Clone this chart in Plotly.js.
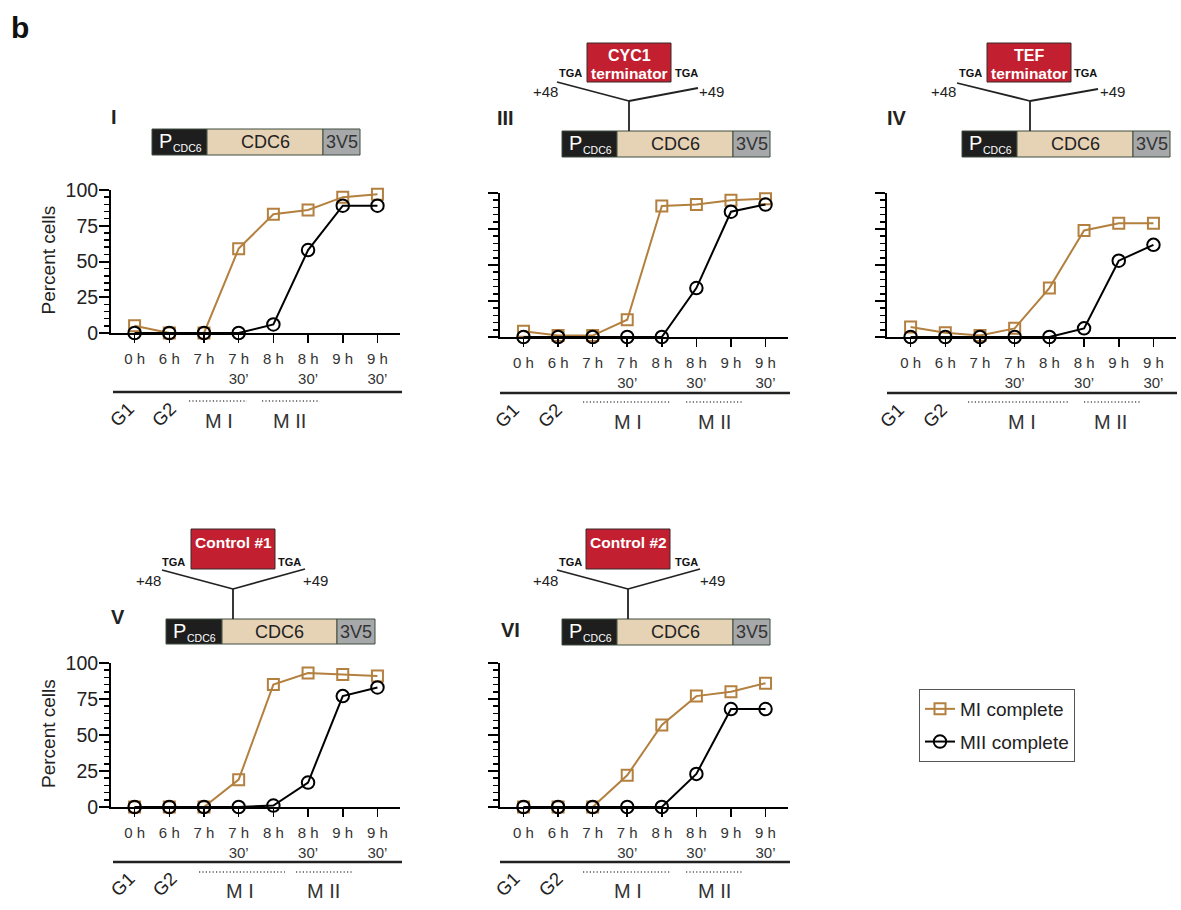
<!DOCTYPE html>
<html>
<head>
<meta charset="utf-8">
<script src="https://cdn.plot.ly/plotly-3.0.1.min.js"></script>
<style>html,body{margin:0;padding:0;background:#fff;}#chart{width:1181px;height:910px;}</style>
</head>
<body>
<div id="chart"></div>
<script>
// ---------- DATA ----------
const timePoints = ['0 h', '6 h', '7 h', '7 h<br>30’', '8 h', '8 h<br>30’', '9 h', '9 h<br>30’'];
const seriesNames = ['MI complete', 'MII complete'];
const panelLabels = ['I', 'III', 'IV', 'V', 'VI'];
const insertLabels = [null, 'CYC1<br>terminator', 'TEF<br>terminator', 'Control #1', 'Control #2'];

const miI   = [5, 0, 0, 59, 83, 86, 95, 97];
const miiI  = [0, 0, 0, 0, 6, 58, 89, 89];
const miIII  = [4, 1, 1, 12, 91, 92, 95, 96];
const miiIII = [0, 0, 0, 0, 0, 34, 87, 92];
const miIV   = [7, 3, 1, 6, 34, 74, 79, 79];
const miiIV  = [0, 0, 0, 0, 0, 6, 53, 64];
const miV    = [0, 0, 0, 19, 85, 93, 92, 91];
const miiV   = [0, 0, 0, 0, 1, 17, 77, 83];
const miVI   = [0, 0, 0, 22, 57, 77, 80, 86];
const miiVI  = [0, 0, 0, 0, 0, 23, 68, 68];

const yTicks = [0, 25, 50, 75, 100];

// ---------- LAYOUT HELPERS ----------
const W = 1181, H = 910;
const px = x => x / W;
const py = y => 1 - y / H;

const MI_COLOR = '#B3803F';
const MII_COLOR = '#000000';
const FONT = 'Liberation Sans, Arial, Helvetica, sans-serif';

// panel geometry in pixels
const panels = [
  {x0: 111, x1: 400, yTop: 190, yBot: 333, labels: true},
  {x0: 500, x1: 788, yTop: 193, yBot: 337, labels: false},
  {x0: 887, x1: 1176, yTop: 193, yBot: 337, labels: false},
  {x0: 111, x1: 400, yTop: 663, yBot: 807, labels: true},
  {x0: 500, x1: 788, yTop: 663, yBot: 807, labels: false}
];
const dataSets = [[miI, miiI], [miIII, miiIII], [miIV, miiIV], [miV, miiV], [miVI, miiVI]];

const traces = [];
const layout = {
  width: W, height: H,
  margin: {l: 0, r: 0, t: 0, b: 0},
  paper_bgcolor: '#fff', plot_bgcolor: 'rgba(0,0,0,0)',
  font: {family: FONT, color: '#222'},
  showlegend: true,
  legend: {
    x: px(919), y: py(689), xanchor: 'left', yanchor: 'top',
    bordercolor: '#555', borderwidth: 1, bgcolor: '#fff',
    font: {size: 19, color: '#222', family: FONT},
    tracegroupgap: 5, itemwidth: 30, traceorder: 'grouped'
  },
  shapes: [], annotations: []
};

panels.forEach((p, i) => {
  const n = i === 0 ? '' : String(i + 1);
  const xa = 'x' + n, ya = 'y' + n;
  const [mi, mii] = dataSets[i];
  traces.push({
    x: timePoints, y: mi, xaxis: xa, yaxis: ya, name: seriesNames[0], legendgroup: 'mi',
    mode: 'lines+markers', cliponaxis: false, showlegend: i === 0,
    line: {color: MI_COLOR, width: 2},
    marker: {symbol: 'square-open', size: 11, color: MI_COLOR, line: {width: 2, color: MI_COLOR}}
  });
  traces.push({
    x: timePoints, y: mii, xaxis: xa, yaxis: ya, name: seriesNames[1], legendgroup: 'mii',
    mode: 'lines+markers', cliponaxis: false, showlegend: i === 0,
    line: {color: MII_COLOR, width: 2},
    marker: {symbol: 'circle-open', size: 12.5, color: MII_COLOR, line: {width: 2, color: MII_COLOR}}
  });
  layout['xaxis' + n] = {
    domain: [px(p.x0), px(p.x1)], anchor: ya, type: 'category',
    range: [-0.68, 7.65], showgrid: false, zeroline: false,
    showline: true, linecolor: '#000', linewidth: 2,
    ticks: 'outside', ticklen: 8, tickwidth: 1.5, tickcolor: '#000',
    tickfont: {size: 15, color: '#333', family: FONT}, tickangle: 0,
    ticklabelstandoff: 3,
    fixedrange: true
  };
  layout['yaxis' + n] = {
    domain: [py(p.yBot), py(p.yTop)], anchor: xa,
    range: [0, 100], showgrid: false, zeroline: false,
    showline: true, linecolor: '#000', linewidth: 2,
    ticks: 'outside', ticklen: 10, tickwidth: 2, tickcolor: '#000',
    tickvals: yTicks, showticklabels: p.labels,
    tickfont: {size: 19.5, color: '#222', family: FONT},
    ticklabelstandoff: -3,
    minor: {ticks: 'outside', ticklen: 5, tickwidth: 1.5, tickcolor: '#000', dtick: 5, tick0: 0, showgrid: false},
    fixedrange: true
  };
  if (p.labels) {
    layout.annotations.push({
      xref: 'paper', yref: 'paper', x: px(48), y: py((p.yTop + p.yBot) / 2 - 2),
      text: 'Percent cells', textangle: -90, showarrow: false,
      xanchor: 'center', yanchor: 'middle', font: {size: 19, color: '#222'}
    });
  }
});

// ---------- PHASE BARS UNDER AXES ----------
const phase = [
  {lx0: 113, lx1: 402, ly: 392, mi: [189, 247], mii: [262, 318], dy: 401, miX: 219, miiX: 289, ty: 421, g1: 122, g2: 164, gy: 415},
  {lx0: 500, lx1: 790, ly: 393, mi: [583, 671], mii: [686, 742], dy: 402, miX: 628, miiX: 714, ty: 422, g1: 507, g2: 550, gy: 416},
  {lx0: 887, lx1: 1177, ly: 393, mi: [968, 1070], mii: [1084, 1140], dy: 402, miX: 1022, miiX: 1110, ty: 422, g1: 892, g2: 935, gy: 416},
  {lx0: 113, lx1: 402, ly: 862, mi: [199, 285], mii: [296, 353], dy: 872, miX: 240, miiX: 323, ty: 891, g1: 122, g2: 164, gy: 884},
  {lx0: 500, lx1: 790, ly: 862, mi: [583, 671], mii: [686, 742], dy: 872, miX: 628, miiX: 714, ty: 891, g1: 507, g2: 550, gy: 884}
];
phase.forEach(ph => {
  layout.shapes.push({type: 'line', xref: 'paper', yref: 'paper', x0: px(ph.lx0), x1: px(ph.lx1), y0: py(ph.ly), y1: py(ph.ly), line: {color: '#222', width: 2.5}});
  layout.shapes.push({type: 'line', xref: 'paper', yref: 'paper', x0: px(ph.mi[0]), x1: px(ph.mi[1]), y0: py(ph.dy), y1: py(ph.dy), line: {color: '#555', width: 1.5, dash: '1.2px,2.2px'}});
  layout.shapes.push({type: 'line', xref: 'paper', yref: 'paper', x0: px(ph.mii[0]), x1: px(ph.mii[1]), y0: py(ph.dy), y1: py(ph.dy), line: {color: '#555', width: 1.5, dash: '1.2px,2.2px'}});
  layout.annotations.push({xref: 'paper', yref: 'paper', x: px(ph.miX), y: py(ph.ty), text: 'M I', showarrow: false, xanchor: 'center', yanchor: 'middle', font: {size: 20, color: '#333'}});
  layout.annotations.push({xref: 'paper', yref: 'paper', x: px(ph.miiX), y: py(ph.ty), text: 'M II', showarrow: false, xanchor: 'center', yanchor: 'middle', font: {size: 20, color: '#333'}});
  layout.annotations.push({xref: 'paper', yref: 'paper', x: px(ph.g1), y: py(ph.gy), text: 'G1', textangle: -45, showarrow: false, xanchor: 'center', yanchor: 'middle', font: {size: 18.5, color: '#222'}});
  layout.annotations.push({xref: 'paper', yref: 'paper', x: px(ph.g2), y: py(ph.gy), text: 'G2', textangle: -45, showarrow: false, xanchor: 'center', yanchor: 'middle', font: {size: 18.5, color: '#222'}});
});

// ---------- CONSTRUCT DIAGRAMS ----------
const constructs = [
  {bx: [152, 207, 323, 360], by: [129, 155], lab: [114, 117], ins: null},
  {bx: [562, 617, 733, 770], by: [131, 157], lab: [505, 118], ins: {box: [587, 671, 43, 82], jx: 629, jy: 101, le: [557, 82], re: [698, 88], tgaL: 570, tgaR: 686, tgaY: 73, p48: 545, p49: 711, pY: 92, t1Y: 55, t2Y: 73}},
  {bx: [962, 1017, 1133, 1170], by: [131, 157], lab: [897, 118], ins: {box: [987, 1071, 43, 82], jx: 1030, jy: 101, le: [957, 83], re: [1098, 89], tgaL: 970, tgaR: 1085, tgaY: 73, p48: 943, p49: 1112, pY: 92, t1Y: 55, t2Y: 73}},
  {bx: [166, 222, 337, 375], by: [619, 644], lab: [118, 617], ins: {box: [191, 275, 529, 569], jx: 233, jy: 589, le: [162, 570], re: [305, 569], tgaL: 173, tgaR: 289, tgaY: 562, p48: 148, p49: 315, pY: 580, t1Y: 542, t2Y: null}},
  {bx: [562, 617, 733, 770], by: [619, 645], lab: [510, 630], ins: {box: [586, 670, 529, 569], jx: 628, jy: 589, le: [557, 570], re: [700, 569], tgaL: 570, tgaR: 686, tgaY: 562, p48: 545, p49: 712, pY: 580, t1Y: 542, t2Y: null}}
];
const BORDER = '#3f4d3f';
constructs.forEach((c, i) => {
  const [a, b, cc, d] = c.bx, [y0, y1] = c.by;
  const rect = (x0, x1, fill) => layout.shapes.push({type: 'rect', xref: 'paper', yref: 'paper', x0: px(x0), x1: px(x1), y0: py(y1), y1: py(y0), fillcolor: fill, line: {color: BORDER, width: 1}});
  rect(a, b, '#1e1e1e');
  rect(b, cc, '#E6D2B5');
  rect(cc, d, '#A6A8AA');
  const ymid = (y0 + y1) / 2;
  layout.annotations.push({xref: 'paper', yref: 'paper', x: px(a + 5), y: py(ymid - 1), text: 'P', showarrow: false, xanchor: 'left', yanchor: 'middle', font: {size: 20, color: '#fff'}});
  layout.annotations.push({xref: 'paper', yref: 'paper', x: px(a + 19), y: py(ymid + 6), text: 'CDC6', showarrow: false, xanchor: 'left', yanchor: 'middle', font: {size: 10.5, color: '#fff'}});
  layout.annotations.push({xref: 'paper', yref: 'paper', x: px((b + cc) / 2), y: py(ymid), text: 'CDC6', showarrow: false, xanchor: 'center', yanchor: 'middle', font: {size: 18, color: '#222'}});
  layout.annotations.push({xref: 'paper', yref: 'paper', x: px((cc + d) / 2), y: py(ymid), text: '3V5', showarrow: false, xanchor: 'center', yanchor: 'middle', font: {size: 18, color: '#333'}});
  layout.annotations.push({xref: 'paper', yref: 'paper', x: px(c.lab[0]), y: py(c.lab[1]), text: '<b>' + panelLabels[i] + '</b>', showarrow: false, xanchor: 'center', yanchor: 'middle', font: {size: 20, color: '#222'}});
  const s = c.ins;
  if (s) {
    const line = (x0, y0_, x1, y1_) => layout.shapes.push({type: 'line', xref: 'paper', yref: 'paper', x0: px(x0), y0: py(y0_), x1: px(x1), y1: py(y1_), line: {color: '#222', width: 1.8}});
    line(s.jx, s.jy, s.jx, y0);
    line(s.le[0], s.le[1], s.jx, s.jy);
    line(s.re[0], s.re[1], s.jx, s.jy);
    layout.shapes.push({type: 'rect', xref: 'paper', yref: 'paper', x0: px(s.box[0]), x1: px(s.box[1]), y0: py(s.box[3]), y1: py(s.box[2]), fillcolor: '#C21F30', line: {color: '#3a2a2a', width: 1}});
    const parts = insertLabels[i].split('<br>');
    layout.annotations.push({xref: 'paper', yref: 'paper', x: px((s.box[0] + s.box[1]) / 2), y: py(s.t1Y), text: '<b>' + parts[0] + '</b>', showarrow: false, xanchor: 'center', yanchor: 'middle', font: {size: parts[1] ? 16 : 15.5, color: '#fff'}});
    if (parts[1]) {
      layout.annotations.push({xref: 'paper', yref: 'paper', x: px((s.box[0] + s.box[1]) / 2), y: py(s.t2Y), text: '<b>' + parts[1] + '</b>', showarrow: false, xanchor: 'center', yanchor: 'middle', font: {size: 15.5, color: '#fff'}});
    }
    layout.annotations.push({xref: 'paper', yref: 'paper', x: px(s.tgaL), y: py(s.tgaY), text: '<b>TGA</b>', showarrow: false, xanchor: 'center', yanchor: 'middle', font: {size: 11, color: '#111'}});
    layout.annotations.push({xref: 'paper', yref: 'paper', x: px(s.tgaR), y: py(s.tgaY), text: '<b>TGA</b>', showarrow: false, xanchor: 'center', yanchor: 'middle', font: {size: 11, color: '#111'}});
    layout.annotations.push({xref: 'paper', yref: 'paper', x: px(s.p48), y: py(s.pY), text: '+48', showarrow: false, xanchor: 'center', yanchor: 'middle', font: {size: 15, color: '#222'}});
    layout.annotations.push({xref: 'paper', yref: 'paper', x: px(s.p49), y: py(s.pY), text: '+49', showarrow: false, xanchor: 'center', yanchor: 'middle', font: {size: 15, color: '#222'}});
  }
});

// figure letter
layout.annotations.push({xref: 'paper', yref: 'paper', x: px(20), y: py(27), text: '<b>b</b>', showarrow: false, xanchor: 'center', yanchor: 'middle', font: {size: 30, color: '#111'}});

Plotly.newPlot('chart', traces, layout, {displayModeBar: false, staticPlot: true});
</script>
</body>
</html>
